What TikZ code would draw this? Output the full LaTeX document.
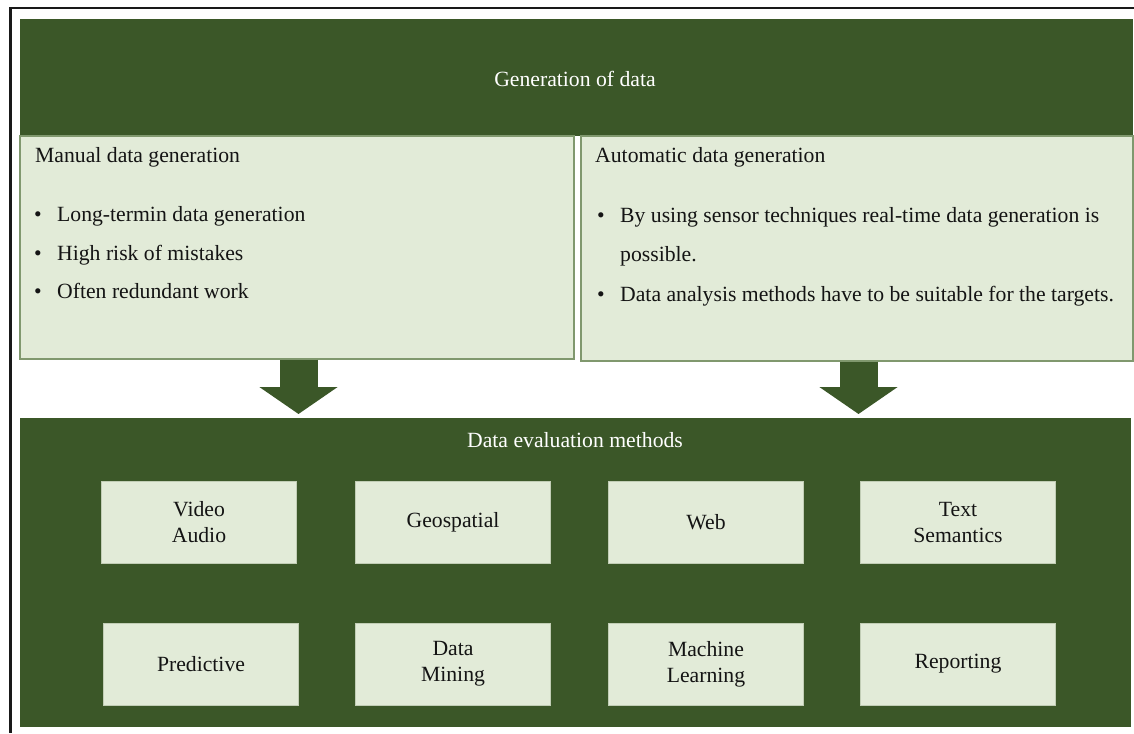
\documentclass[tikz,border=0pt]{standalone}
\usepackage{fontspec}
\setmainfont{Liberation Serif}
\usetikzlibrary{arrows.meta,calc}
\definecolor{dkgreen}{RGB}{59,87,40}
\definecolor{ltgreen}{RGB}{226,235,216}
\definecolor{bdgreen}{RGB}{128,152,110}
\definecolor{txtcol}{RGB}{20,20,20}
\tikzset{
  band/.style={fill=dkgreen, draw=none, inner sep=0pt},
  genbox/.style={fill=ltgreen, draw=bdgreen, line width=1.2pt, inner sep=0pt},
  methbox/.style={fill=ltgreen, draw=ltgreen!80!dkgreen, line width=0.8pt, inner sep=0pt,
    minimum width=195pt, minimum height=82pt, align=center, text=txtcol,
    font=\fontsize{21.7}{26}\selectfont},
  txt/.style={inner sep=0pt, text=txtcol, font=\fontsize{21.7}{26}\selectfont, anchor=base west},
  wtxt/.style={inner sep=0pt, text=white, font=\fontsize{21.7}{26}\selectfont},
  blockarrow/.style={draw=dkgreen, line width=38pt, line cap=butt,
    -{Triangle[width=77pt,length=27pt]}},
  frame/.style={draw=black!90, line width=2.5pt}
}
\newcommand{\bul}{\makebox[23pt][l]{•}}
\begin{document}
\begin{tikzpicture}[x=1pt,y=-1pt]
\useasboundingbox (0,0) rectangle (1134,733);
% frame lines
\coordinate (ftl) at (10.5,8);
\coordinate (ftr) at (1134,8);
\coordinate (fbl) at (10.5,733);
\draw[frame] (ftr) -- (ftl) -- (fbl);
% top band
\node[band, minimum width=1113pt, minimum height=117pt] (gen) at (576.5,77.5) {};
\node[wtxt] (gentitle) at (575,79) {Generation of data};
% generation boxes
\node[genbox, minimum width=554pt, minimum height=223pt] (lbox) at (297,247.5) {};
\node[genbox, minimum width=552pt, minimum height=225pt] (rbox) at (857,248.5) {};
% left box text
\node[txt] (ltitle) at (35,162) {Manual data generation};
\node[txt] (l1) at (34,221) {\bul Long-termin data generation};
\node[txt] (l2) at (34,260) {\bul High risk of mistakes};
\node[txt] (l3) at (34,298) {\bul Often redundant work};
% right box text
\node[txt] (rtitle) at (595,162) {Automatic data generation};
\node[txt] (r1) at (597,222) {\bul By using sensor techniques real-time data generation is};
\node[txt] (r1b) at (620,261) {possible.};
\node[txt] (r2) at (597,301) {\bul Data analysis methods have to be suitable for the targets.};
% bottom panel
\node[band, minimum width=1111pt, minimum height=309pt] (panel) at (575.5,572.5) {};
\node[wtxt] (paneltitle) at (575,440) {Data evaluation methods};
% arrows
\coordinate (ltip) at (298.5,414);
\coordinate (rtip) at (858.5,414);
\draw[blockarrow] (lbox.south -| ltip) -- (ltip);
\draw[blockarrow] (rbox.south -| rtip) -- (rtip);
% method boxes
\node[methbox] (m1) at (199,522) {Video\\Audio};
\node[methbox] (m2) at (453,522) {Geospatial};
\node[methbox] (m3) at (706,522) {Web};
\node[methbox] (m4) at (958,522) {Text\\Semantics};
\node[methbox] (m5) at (201,664) {Predictive};
\node[methbox] (m6) at (453,664) {Data\\Mining};
\node[methbox] (m7) at (706,664) {Machine\\Learning};
\node[methbox] (m8) at (958,664) {Reporting};
\end{tikzpicture}
\end{document}
